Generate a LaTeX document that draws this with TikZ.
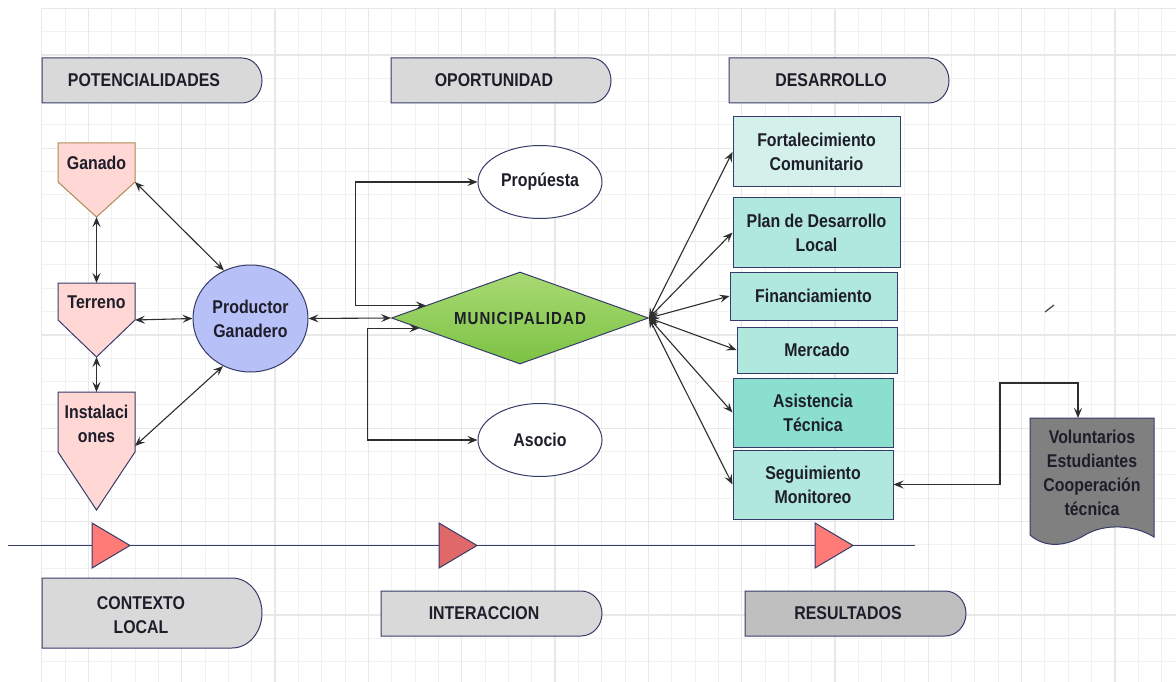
\documentclass[tikz,border=0pt]{standalone}
\usepackage{fontspec}
\setmainfont{Liberation Sans}[FakeStretch=0.86]
\usetikzlibrary{shapes.geometric,arrows.meta,calc}
\definecolor{navy}{HTML}{363C6A}
\definecolor{txt}{HTML}{1E1E2A}
\definecolor{tabgray}{HTML}{D9D9D9}
\definecolor{resgray}{HTML}{BFBFBF}
\definecolor{pinkf}{HTML}{FFD8D6}
\definecolor{brownb}{HTML}{B08A55}
\definecolor{circf}{HTML}{B8C0F8}
\definecolor{fortf}{HTML}{D3F1EA}
\definecolor{boxf}{HTML}{B1E8DE}
\definecolor{asisf}{HTML}{8ADFCF}
\definecolor{trif}{HTML}{FF7B78}
\definecolor{trim}{HTML}{E06868}
\definecolor{docf}{HTML}{808080}
\definecolor{gridminor}{HTML}{F1F1F1}
\definecolor{gridmajor}{HTML}{E8E8E8}
\definecolor{linec}{HTML}{2E2E2E}
\definecolor{greentop}{HTML}{A9DA74}
\definecolor{greenbot}{HTML}{7CC243}
\begin{document}
\begin{tikzpicture}[x=1pt,y=-1pt,
  every node/.style={text=txt,font=\fontsize{18.5}{24}\selectfont\bfseries,align=center},
  shapeline/.style={draw=navy,line width=1pt},
  tabbox/.style={shapeline,fill=tabgray},
  pent/.style={shapeline,fill=pinkf},
  ell/.style={ellipse,shapeline,fill=white,minimum width=124pt,minimum height=73pt,inner sep=0pt},
  devbox/.style={rectangle,shapeline,fill=boxf,minimum width=167pt,inner sep=0pt},
  arr/.style={draw=linec,line width=1.1pt,{Stealth[length=10pt,width=8pt,inset=4pt]}-{Stealth[length=10pt,width=8pt,inset=4pt]}},
  tri/.style={draw=navy,line width=1pt,fill=trif}
]
\useasboundingbox (0,0) rectangle (1176,682);
\fill[white] (0,0) rectangle (1176,682);
% grid
\foreach \i in {0,...,48} {\draw[gridminor,line width=1pt] (41.67+\i*23.333,8.33) -- (41.67+\i*23.333,682);}
\foreach \j in {0,...,29} {\draw[gridminor,line width=1pt] (41.67,8.33+\j*23.333) -- (1176,8.33+\j*23.333);}
\foreach \i in {0,...,11} {\draw[gridmajor,line width=1.2pt] (88.33+\i*93.333,8.33) -- (88.33+\i*93.333,682);}
\foreach \j in {0,...,6} {\draw[gridmajor,line width=1.2pt] (41.67,55+\j*93.333) -- (1176,55+\j*93.333);}
\draw[gridmajor,line width=1.2pt] (41.67,682) -- (41.67,8.33) -- (1176,8.33);

% header tabs
\draw[tabbox] (42,58) -- (242,58) arc[start angle=90,end angle=-90,x radius=20pt,y radius=22.5pt] -- (42,103) -- cycle;
\node (potenc) at (144,80) {POTENCIALIDADES};
\draw[tabbox] (391,58) -- (591,58) arc[start angle=90,end angle=-90,x radius=20pt,y radius=22.5pt] -- (391,103) -- cycle;
\node (oport) at (494,80) {OPORTUNIDAD};
\draw[tabbox] (729,58) -- (929,58) arc[start angle=90,end angle=-90,x radius=20pt,y radius=22.5pt] -- (729,103) -- cycle;
\node (desarr) at (831,80) {DESARROLLO};

% bottom tabs
\draw[tabbox] (42,578) -- (232,578) arc[start angle=90,end angle=-90,x radius=30pt,y radius=35pt] -- (42,648) -- cycle;
\node (contexto) at (141,615) {CONTEXTO\\LOCAL};
\draw[tabbox] (381,591) -- (581,591) arc[start angle=90,end angle=-90,x radius=21pt,y radius=22.5pt] -- (381,636) -- cycle;
\node (interac) at (484,613) {INTERACCION};
\draw[tabbox,fill=resgray] (745,591) -- (945,591) arc[start angle=90,end angle=-90,x radius=21pt,y radius=22.5pt] -- (745,636) -- cycle;
\node (result) at (848,613) {RESULTADOS};

% timeline
\coordinate (tlA) at (8,545.5);
\coordinate (tlB) at (915,545.5);
\draw[navy,line width=1.2pt] (tlA) -- (tlB);
\draw[tri] (92,523) -- (130,545.5) -- (92,568) -- cycle;
\draw[tri,fill=trim] (439,523) -- (477,545.5) -- (439,568) -- cycle;
\draw[tri] (815,523) -- (853,545.5) -- (815,568) -- cycle;

% pentagons
\draw[pent,draw=brownb] (58,143) -- (135,143) -- (135,182) -- (96.5,217) -- (58,182) -- cycle;
\node (ganado) at (96.5,163) {Ganado};
\draw[pent] (58,283) -- (135,283) -- (135,320) -- (96.5,357) -- (58,320) -- cycle;
\node (terreno) at (96.5,302) {Terreno};
\draw[pent] (58,392) -- (135,392) -- (135,452) -- (96.5,510) -- (58,452) -- cycle;
\node (instal) at (96.5,424) {Instalaci\\ones};
\coordinate (ganTip) at (96.5,217);
\coordinate (ganR) at (135,182);
\coordinate (terTop) at (96.5,283);
\coordinate (terTip) at (96.5,357);
\coordinate (terR) at (135,320);
\coordinate (insTop) at (96.5,392);
\coordinate (insR) at (135,446);

% productor
\node[ellipse,shapeline,fill=circf,minimum width=115pt,minimum height=107pt,inner sep=0pt] (prod) at (250.5,318.5) {Productor\\Ganadero};

% municipalidad
\node[diamond,aspect=2.8,draw=navy,line width=1pt,top color=greentop,bottom color=greenbot,minimum width=257pt,minimum height=92pt,inner sep=0pt,font={\fontsize{17.5}{20}\selectfont\bfseries\addfontfeature{LetterSpace=6}}] (muni) at (520,318) {MUNICIPALIDAD};

% oportunidad ellipses
\node[ell] (prop) at (540,182) {Propúesta};
\node[ell] (aso) at (540,440) {Asocio};

% development boxes
\node[devbox,fill=fortf,minimum height=70pt] (fort) at (816.5,152) {Fortalecimiento\\Comunitario};
\node[devbox,minimum height=69pt] (plan) at (816.5,232.5) {Plan de Desarrollo\\Local};
\node[devbox,minimum height=48pt] (fin) at (813.5,296) {Financiamiento};
\node[devbox,minimum width=160pt,minimum height=46pt] (merc) at (817,350) {Mercado};
\node[devbox,fill=asisf,minimum width=160pt,minimum height=69pt] (asis) at (813,412.5) {Asistencia\\Técnica};
\node[devbox,minimum width=160pt,minimum height=69pt] (seg) at (813,484.5) {Seguimiento\\Monitoreo};

% document
\draw[shapeline,fill=docf] (1030,418) -- (1154,418) -- (1154,537)
  .. controls (1135,525) and (1105,523) .. (1085,535)
  .. controls (1065,547) and (1045,548) .. (1030,535) -- cycle;
\node (vol) at (1092,473) {Voluntarios\\Estudiantes\\Cooperación\\técnica};
\coordinate (volN) at (1078,418);
\coordinate (k1) at (1000,383);

% stray mark
\draw[gray!60!black,line width=1.3pt] (1045,312) -- (1054,305);

% connectors
\draw[arr] (ganTip) -- (terTop);
\draw[arr] (terTip) -- (insTop);
\draw[arr] (ganR) -- (prod.119);
\draw[arr] (terR) -- (prod.west);
\draw[arr] (insR) -- (prod.240);
\draw[arr] (prod.east) -- (muni.west);
\draw[arr] (prop.west) -- ++(-122,0) |- ($(muni.west)!0.27!(muni.north)$);
\draw[arr] (aso.west) -- ++(-110,0) |- ($(muni.west)!0.22!(muni.south)$);
\foreach \b in {fort,plan,fin,merc,asis,seg} {\draw[arr] (muni.east) -- (\b.west);}
\draw[arr] (seg.east) -| (k1) -| (volN);
\end{tikzpicture}
\end{document}
